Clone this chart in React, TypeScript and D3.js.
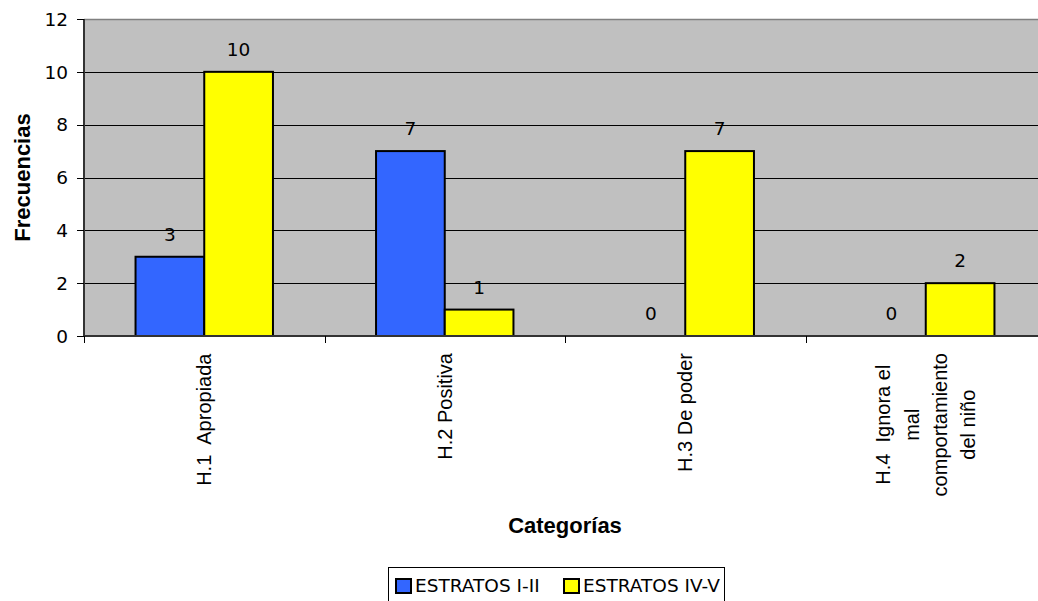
import React from "react";
import * as d3 from "d3";

const categories: string[][] = [
  ["H.1  Apropiada"],
  ["H.2 Positiva"],
  ["H.3 De poder"],
  ["H.4  Ignora el", "mal", "comportamiento", "del niño"],
];
const seriesNames = ["ESTRATOS I-II", "ESTRATOS IV-V"];
const estratosI_II = [3, 7, 0, 0];
const estratosIV_V = [10, 1, 7, 2];
const seriesValues = [estratosI_II, estratosIV_V];
const seriesColors = ["#3366FF", "#FFFF00"];
const yTicks = [0, 2, 4, 6, 8, 10, 12];

const W = 1038;
const H = 601;
const plot = { left: 84, right: 1046, top: 19, bottom: 336 };

const catFont = "20px 'Liberation Sans', Arial, sans-serif";
let ctx: CanvasRenderingContext2D | null = null;
function measure(text: string, font: string): number {
  if (!ctx) ctx = document.createElement("canvas").getContext("2d");
  if (!ctx) return text.length * 10;
  ctx.font = font;
  return ctx.measureText(text).width;
}

export default function App() {
  const x0 = d3
    .scaleBand<number>()
    .domain(categories.map((_, i) => i))
    .range([plot.left, plot.right])
    .paddingInner(0)
    .paddingOuter(0);
  const band = x0.bandwidth();
  const barW = band / (seriesNames.length + 1.5);
  const groupOffset = (band - barW * seriesNames.length) / 2;
  const x1 = d3
    .scaleBand<number>()
    .domain(seriesNames.map((_, i) => i))
    .range([0, barW * seriesNames.length]);
  const y = d3.scaleLinear().domain([0, 12]).range([plot.bottom, plot.top]);

  const numFont = "'DejaVu Sans', Verdana, sans-serif";
  const catLineH = 28.3;
  const catTop = 353;

  return (
    <svg
      width={W}
      height={H}
      style={{ position: "absolute", left: 0, top: 0, background: "#fff" }}
    >
      {/* plot background */}
      <rect
        x={plot.left}
        y={plot.top}
        width={plot.right - plot.left}
        height={plot.bottom - plot.top}
        fill="#C0C0C0"
      />
      <line x1={plot.left} x2={plot.right} y1={plot.top + 0.5} y2={plot.top + 0.5} stroke="#808080" strokeWidth={1.5} />
      {/* gridlines */}
      {yTicks
        .filter((t) => t > 0 && t < 12)
        .map((t) => (
          <line
            key={"g" + t}
            x1={plot.left}
            x2={plot.right}
            y1={Math.round(y(t)) + 0.5}
            y2={Math.round(y(t)) + 0.5}
            stroke="#000"
            strokeWidth={1}
          />
        ))}
      {/* bars */}
      {categories.map((_, ci) =>
        seriesValues.map((vals, si) => {
          const v = vals[ci];
          if (v <= 0) return null;
          const bx = (x0(ci) as number) + groupOffset + (x1(si) as number);
          return (
            <rect
              key={`b${ci}-${si}`}
              x={bx}
              y={y(v)}
              width={x1.bandwidth()}
              height={y(0) - y(v)}
              fill={seriesColors[si]}
              stroke="#000"
              strokeWidth={2}
            />
          );
        })
      )}
      {/* value labels */}
      {categories.map((_, ci) =>
        seriesValues.map((vals, si) => {
          const v = vals[ci];
          const cx = (x0(ci) as number) + groupOffset + (x1(si) as number) + x1.bandwidth() / 2;
          return (
            <text
              key={`l${ci}-${si}`}
              x={cx}
              y={y(v) - 16}
              textAnchor="middle"
              fontFamily={numFont}
              fontSize={18.5}
              fill="#000"
            >
              {v}
            </text>
          );
        })
      )}
      {/* axes */}
      <line x1={plot.left} x2={plot.left} y1={plot.top} y2={plot.bottom + 1} stroke="#333" strokeWidth={2} />
      <line x1={plot.left} x2={plot.right} y1={plot.bottom} y2={plot.bottom} stroke="#333" strokeWidth={2} />
      {yTicks.map((t) => (
        <g key={"yt" + t}>
          <line
            x1={plot.left - 7}
            x2={plot.left}
            y1={Math.round(y(t)) + 0.5}
            y2={Math.round(y(t)) + 0.5}
            stroke="#000"
            strokeWidth={1}
          />
          <text
            x={68}
            y={y(t) + 6.7}
            textAnchor="end"
            fontFamily={numFont}
            fontSize={18.5}
            fill="#000"
          >
            {t}
          </text>
        </g>
      ))}
      {categories.map((_, ci) => (
        <line
          key={"xt" + ci}
          x1={Math.round(x0(ci) as number) + 0.5}
          x2={Math.round(x0(ci) as number) + 0.5}
          y1={plot.bottom}
          y2={plot.bottom + 7}
          stroke="#000"
          strokeWidth={1}
        />
      ))}
      {/* category labels */}
      {categories.map((lines, ci) => {
        const cx = (x0(ci) as number) + band / 2;
        const maxW = Math.max(...lines.map((l) => measure(l, catFont)));
        const cy = catTop + maxW / 2;
        const n = lines.length;
        return (
          <g key={"cl" + ci}>
            {lines.map((l, li) => {
              const lx = cx + (li - (n - 1) / 2) * catLineH + 7;
              return (
                <text
                  key={li}
                  transform={`translate(${lx},${cy}) rotate(-90)`}
                  textAnchor="middle"
                  fontFamily="'Liberation Sans', Arial, sans-serif"
                  fontSize={20}
                  fill="#000"
                  style={{ whiteSpace: "pre" }}
                >
                  {l}
                </text>
              );
            })}
          </g>
        );
      })}
      {/* axis titles */}
      <text
        transform={`translate(29.5,${(plot.top + plot.bottom) / 2}) rotate(-90)`}
        textAnchor="middle"
        fontFamily="'Liberation Sans', Arial, sans-serif"
        fontWeight="bold"
        fontSize={22}
        fill="#000"
      >
        Frecuencias
      </text>
      <text
        x={(plot.left + plot.right) / 2}
        y={533}
        textAnchor="middle"
        fontFamily="'Liberation Sans', Arial, sans-serif"
        fontWeight="bold"
        fontSize={22}
        fill="#000"
      >
        Categorías
      </text>
      {/* legend */}
      <rect x={388.5} y={567.5} width={336} height={50} fill="#fff" stroke="#000" strokeWidth={1} />
      {seriesNames.map((name, si) => {
        const lx = si === 0 ? 396 : 564;
        return (
          <g key={"lg" + si}>
            <rect x={lx} y={579} width={15} height={14} fill={seriesColors[si]} stroke="#000" strokeWidth={2} />
            <text x={lx + 19} y={592} fontFamily={numFont} fontSize={18.5} fill="#000">
              {name}
            </text>
          </g>
        );
      })}
    </svg>
  );
}
